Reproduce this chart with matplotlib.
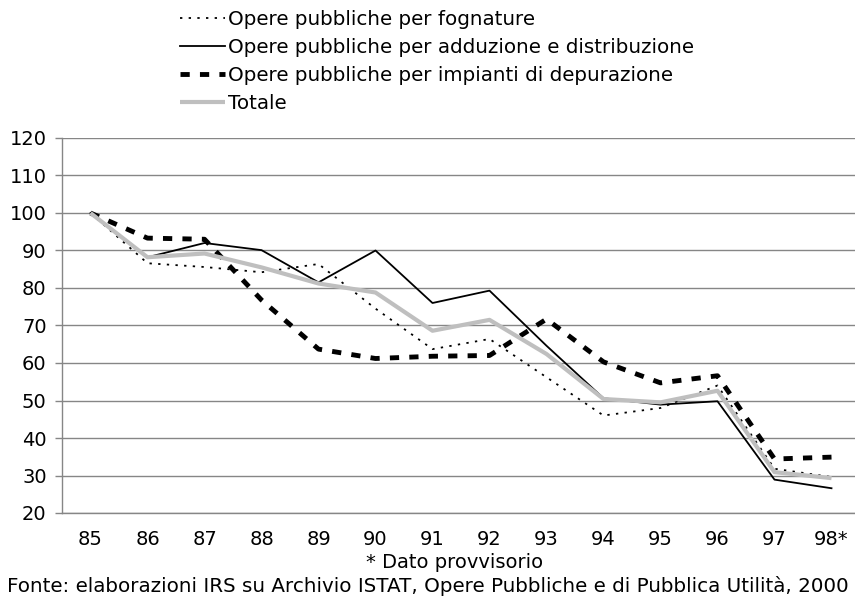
import matplotlib
matplotlib.use("Agg")
import matplotlib.pyplot as plt

plt.rcParams['font.family'] = ['DejaVu Sans']

years = ["85", "86", "87", "88", "89", "90", "91", "92", "93", "94", "95", "96", "97", "98*"]
fognature = [100, 86.6, 85.6, 84.2, 86.4, 74.5, 63.7, 66.4, 56.2, 46.0, 48.0, 54.0, 31.8, 29.6]
adduzione = [100, 88.2, 92.0, 90.1, 81.5, 90.0, 76.0, 79.3, 64.6, 50.6, 48.9, 49.8, 28.9, 26.6]
depurazione = [100, 93.3, 93.0, 76.8, 63.7, 61.2, 61.8, 62.0, 71.7, 60.3, 54.7, 56.6, 34.4, 34.9]
totale = [100, 88.2, 89.2, 85.5, 81.2, 78.8, 68.6, 71.5, 62.4, 50.4, 49.5, 52.6, 30.9, 29.3]

labels = ["Opere pubbliche per fognature",
          "Opere pubbliche per adduzione e distribuzione",
          "Opere pubbliche per impianti di depurazione",
          "Totale"]
yticks = [20, 30, 40, 50, 60, 70, 80, 90, 100, 110, 120]

W, H = 855, 597
fig = plt.figure(figsize=(W / 100, H / 100), dpi=100)
left, right, top, bottom = 62, 860, 138, 513
ax = fig.add_axes([left / W, (H - bottom) / H, (right - left) / W, (bottom - top) / H])

x = list(range(len(years)))
l1, = ax.plot(x, fognature, color='black', lw=1.3, linestyle=(0, (1.3, 3.5)), zorder=3)
l2, = ax.plot(x, adduzione, color='black', lw=1.3, zorder=4)
l3, = ax.plot(x, depurazione, color='black', lw=3.5, linestyle=(0, (1.9, 2.1)), zorder=3)
l4, = ax.plot(x, totale, color='#bfbfbf', lw=3, zorder=5, solid_capstyle='butt')

ax.set_xlim(-0.5, len(years) - 0.5)
ax.set_ylim(20, 120)
ax.set_yticks(yticks)
ax.set_xticks(x)
ax.set_xticklabels(years)
ax.tick_params(axis='y', length=5, color='#868686', width=1, labelsize=14, pad=6)
ax.tick_params(axis='x', length=0, labelsize=14, pad=12)
ax.yaxis.grid(True, color='#868686', lw=1)
ax.set_axisbelow(True)
for s in ['top', 'right']:
    ax.spines[s].set_visible(False)
ax.spines['left'].set_color('#868686')
ax.spines['bottom'].set_color('#868686')
ax.spines['left'].set_linewidth(1)
ax.spines['bottom'].set_linewidth(1)

fig.legend([l1, l2, l3, l4], labels, loc='upper left',
           bbox_to_anchor=(180 / W, 1 - 10 / H), frameon=False, fontsize=14.3,
           handlelength=2.25, handletextpad=0.15, labelspacing=0.45,
           borderpad=0, borderaxespad=0)

fig.text(455 / W, 1 - 563 / H, "* Dato provvisorio", ha='center', va='center', fontsize=14)
fig.text(428 / W, 1 - 586 / H,
         "Fonte: elaborazioni IRS su Archivio ISTAT, Opere Pubbliche e di Pubblica Utilità, 2000",
         ha='center', va='center', fontsize=14.3)

fig.savefig("out.png", dpi=100)
